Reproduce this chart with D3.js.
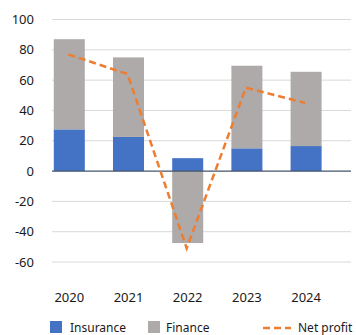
<!DOCTYPE html>
<html>
<head>
<meta charset="utf-8">
<script src="https://cdn.jsdelivr.net/npm/d3@7"></script>
<style>
  body { margin: 0; background: #fff; }
  text { font-family: "Noto Sans", "DejaVu Sans", sans-serif; fill: #1a1a1a; }
</style>
</head>
<body>
<div id="chart"></div>
<script>
var width = 356;
var height = 335;

// data
var years = ["2020", "2021", "2022", "2023", "2024"];
var insurance = [27.5, 22.5, 8.5, 15, 16.5];
var finance = [59.5, 52.5, -47.5, 54.5, 49];
var netProfit = [77, 64, -51, 55, 45];
var yTicks = [-60, -40, -20, 0, 20, 40, 60, 80, 100];

var colIns = "#4472c4", colFin = "#aeaaaa", colNet = "#ed7d31";

var svg = d3.select("#chart").append("svg")
  .attr("width", width)
  .attr("height", height);

var x = d3.scaleBand().domain(years).range([39.7, 335.7]).paddingInner(0.476).paddingOuter(0.238);
var y = d3.scaleLinear().domain([-60, 100]).range([262, 19.5]);

// grid lines
svg.append("g").selectAll("line")
  .data(yTicks.filter(function(d){ return d != 0; }))
  .enter().append("line")
  .attr("x1", 52).attr("x2", 351)
  .attr("y1", function(d){ return y(d); })
  .attr("y2", function(d){ return y(d); })
  .style("stroke", "#d9d9d9")
  .style("stroke-width", 1);

// y labels
svg.append("g").selectAll("text")
  .data(yTicks)
  .enter().append("text")
  .attr("x", 34)
  .attr("y", function(d){ return y(d); })
  .attr("dy", "0.35em")
  .attr("text-anchor", "end")
  .style("font-size", "13px")
  .text(function(d){ return d; });

// stacked bars: insurance from 0, finance on top (or below if negative)
var bars = svg.append("g");
years.forEach(function(yr, i){
  var ins = insurance[i], fin = finance[i];
  bars.append("rect")
    .attr("x", x(yr)).attr("width", x.bandwidth())
    .attr("y", y(Math.max(0, ins))).attr("height", Math.abs(y(ins) - y(0)))
    .style("fill", colIns);
  var f0 = fin >= 0 ? ins : 0;
  var f1 = f0 + fin;
  bars.append("rect")
    .attr("x", x(yr)).attr("width", x.bandwidth())
    .attr("y", y(Math.max(f0, f1))).attr("height", Math.abs(y(f1) - y(f0)))
    .style("fill", colFin);
});

// zero axis line
svg.append("line")
  .attr("x1", 52).attr("x2", 351)
  .attr("y1", y(0)).attr("y2", y(0))
  .style("stroke", "#44546a")
  .style("stroke-width", 1.2);

// net profit dashed line
var lineGen = d3.line()
  .x(function(d, i){ return x(years[i]) + x.bandwidth()/2 - 1; })
  .y(function(d){ return y(d); });

svg.append("path")
  .attr("d", lineGen(netProfit))
  .style("fill", "none")
  .style("stroke", colNet)
  .style("stroke-width", 2.5)
  .style("stroke-dasharray", "7,4");

// year labels
svg.append("g").selectAll("text")
  .data(years)
  .enter().append("text")
  .attr("x", function(d){ return x(d) + x.bandwidth()/2; })
  .attr("y", 297)
  .attr("dy", "0.35em")
  .attr("text-anchor", "middle")
  .style("font-size", "13px")
  .text(function(d){ return d; });

// legend
var leg = svg.append("g");
leg.append("rect").attr("x", 50).attr("y", 321).attr("width", 12).attr("height", 12).style("fill", colIns);
leg.append("text").attr("x", 70).attr("y", 327.5).attr("dy", "0.35em").style("font-size", "12px").text("Insurance");
leg.append("rect").attr("x", 148).attr("y", 321).attr("width", 12).attr("height", 12).style("fill", colFin);
leg.append("text").attr("x", 166).attr("y", 327.5).attr("dy", "0.35em").style("font-size", "12px").text("Finance");
leg.append("line").attr("x1", 263).attr("x2", 291).attr("y1", 328).attr("y2", 328)
  .style("stroke", colNet).style("stroke-width", 2.5).style("stroke-dasharray", "7,4");
leg.append("text").attr("x", 298).attr("y", 327.5).attr("dy", "0.35em").style("font-size", "12px").text("Net profit");
</script>
</body>
</html>
